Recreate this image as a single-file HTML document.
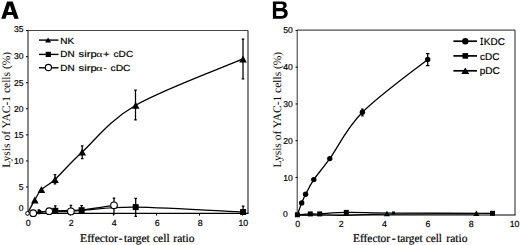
<!DOCTYPE html>
<html><head><meta charset="utf-8"><style>
html,body{margin:0;padding:0;background:#fff;}
svg{display:block;}
text{text-rendering:geometricPrecision;}
</style></head><body>
<svg width="520" height="245" viewBox="0 0 520 245">
<rect width="520" height="245" fill="#fff"/>
<path fill-rule="evenodd" fill="#000" d="M1.2,18.8 L7.1,1.4 L12.7,1.4 L18.7,18.8 L14.3,18.8 L13.05,15.0 L6.75,15.0 L5.5,18.8 Z M7.7,12.0 L12.1,12.0 L9.9,5.2 Z"/>
<path d="M28.0,213.4 L28.0,30.5" stroke="#111" stroke-width="1" fill="none"/>
<path d="M28.0,30.5 L248.0,30.5" stroke="#444" stroke-width="1.1" fill="none"/>
<path d="M248.0,30.5 L248.0,213.4" stroke="#222" stroke-width="1.1" fill="none"/>
<path d="M27.5,213.4 L248.5,213.4" stroke="#000" stroke-width="1.3"/>
<text x="23.6" y="211.30" text-anchor="end" style="font-family:'Liberation Sans',sans-serif;font-size:8.6px;stroke:#000;stroke-width:0.18px">0</text>
<path d="M26.0,187.02 L28.0,187.02" stroke="#000" stroke-width="1"/>
<text x="23.6" y="189.82" text-anchor="end" style="font-family:'Liberation Sans',sans-serif;font-size:8.6px;stroke:#000;stroke-width:0.18px">5</text>
<path d="M26.0,160.94 L28.0,160.94" stroke="#000" stroke-width="1"/>
<text x="23.6" y="163.74" text-anchor="end" style="font-family:'Liberation Sans',sans-serif;font-size:8.6px;stroke:#000;stroke-width:0.18px">10</text>
<path d="M26.0,134.86 L28.0,134.86" stroke="#000" stroke-width="1"/>
<text x="23.6" y="137.66" text-anchor="end" style="font-family:'Liberation Sans',sans-serif;font-size:8.6px;stroke:#000;stroke-width:0.18px">15</text>
<path d="M26.0,108.78 L28.0,108.78" stroke="#000" stroke-width="1"/>
<text x="23.6" y="111.58" text-anchor="end" style="font-family:'Liberation Sans',sans-serif;font-size:8.6px;stroke:#000;stroke-width:0.18px">20</text>
<path d="M26.0,82.70 L28.0,82.70" stroke="#000" stroke-width="1"/>
<text x="23.6" y="85.50" text-anchor="end" style="font-family:'Liberation Sans',sans-serif;font-size:8.6px;stroke:#000;stroke-width:0.18px">25</text>
<path d="M26.0,56.62 L28.0,56.62" stroke="#000" stroke-width="1"/>
<text x="23.6" y="59.42" text-anchor="end" style="font-family:'Liberation Sans',sans-serif;font-size:8.6px;stroke:#000;stroke-width:0.18px">30</text>
<path d="M26.0,30.54 L28.0,30.54" stroke="#000" stroke-width="1"/>
<text x="23.6" y="32.34" text-anchor="end" style="font-family:'Liberation Sans',sans-serif;font-size:8.6px;stroke:#000;stroke-width:0.18px">35</text>
<path d="M27.50,213.4 L27.50,215.6" stroke="#000" stroke-width="1"/>
<text x="28.30" y="226.4" text-anchor="middle" style="font-family:'Liberation Sans',sans-serif;font-size:8.8px;stroke:#000;stroke-width:0.18px">0</text>
<path d="M70.50,213.4 L70.50,215.6" stroke="#000" stroke-width="1"/>
<text x="71.30" y="226.4" text-anchor="middle" style="font-family:'Liberation Sans',sans-serif;font-size:8.8px;stroke:#000;stroke-width:0.18px">2</text>
<path d="M113.50,213.4 L113.50,215.6" stroke="#000" stroke-width="1"/>
<text x="114.30" y="226.4" text-anchor="middle" style="font-family:'Liberation Sans',sans-serif;font-size:8.8px;stroke:#000;stroke-width:0.18px">4</text>
<path d="M156.50,213.4 L156.50,215.6" stroke="#000" stroke-width="1"/>
<text x="157.30" y="226.4" text-anchor="middle" style="font-family:'Liberation Sans',sans-serif;font-size:8.8px;stroke:#000;stroke-width:0.18px">6</text>
<path d="M199.50,213.4 L199.50,215.6" stroke="#000" stroke-width="1"/>
<text x="200.30" y="226.4" text-anchor="middle" style="font-family:'Liberation Sans',sans-serif;font-size:8.8px;stroke:#000;stroke-width:0.18px">8</text>
<path d="M242.50,213.4 L242.50,215.6" stroke="#000" stroke-width="1"/>
<text x="243.30" y="226.4" text-anchor="middle" style="font-family:'Liberation Sans',sans-serif;font-size:8.8px;stroke:#000;stroke-width:0.18px">10</text>
<text x="80.07" y="241.50" textLength="37.73" lengthAdjust="spacingAndGlyphs" style="font-family:'Liberation Serif',serif;font-size:11.7px;stroke:#000;stroke-width:0.2px">Effector</text>
<text x="118.70" y="241.50" textLength="3.59" lengthAdjust="spacingAndGlyphs" style="font-family:'Liberation Serif',serif;font-size:11.7px;stroke:#000;stroke-width:0.2px">-</text>
<text x="124.09" y="241.50" textLength="25.68" lengthAdjust="spacingAndGlyphs" style="font-family:'Liberation Serif',serif;font-size:11.7px;stroke:#000;stroke-width:0.2px">target</text>
<text x="152.96" y="241.50" textLength="16.67" lengthAdjust="spacingAndGlyphs" style="font-family:'Liberation Serif',serif;font-size:11.7px;stroke:#000;stroke-width:0.2px">cell</text>
<text x="173.37" y="241.50" textLength="21.07" lengthAdjust="spacingAndGlyphs" style="font-family:'Liberation Serif',serif;font-size:11.7px;stroke:#000;stroke-width:0.2px">ratio</text>
<text transform="translate(9.7,167.8) rotate(-90)" x="0" y="0" textLength="116" lengthAdjust="spacingAndGlyphs" style="font-family:'Liberation Serif',serif;font-size:11.5px">Lysis of YAC-1 cells (%)</text>
<path d="M39,40.1 L58.5,40.1" stroke="#000" stroke-width="1.4"/>
<path d="M45.10,42.60 L51.10,42.60 L48.10,37.40 Z" fill="#000"/>
<text x="60.38" y="43.50" textLength="13.94" lengthAdjust="spacingAndGlyphs" style="font-family:'Liberation Sans',sans-serif;font-size:8.8px;stroke:#000;stroke-width:0.18px">NK</text>
<path d="M39,54.4 L58.5,54.4" stroke="#000" stroke-width="1.4"/>
<rect x="45.70" y="51.80" width="5.2" height="5.2" fill="#000"/>
<text x="60.39" y="56.90" textLength="14.32" lengthAdjust="spacingAndGlyphs" style="font-family:'Liberation Sans',sans-serif;font-size:8.8px;stroke:#000;stroke-width:0.18px">DN</text>
<text x="78.59" y="56.90" textLength="18.08" lengthAdjust="spacingAndGlyphs" style="font-family:'Liberation Sans',sans-serif;font-size:8.8px;stroke:#000;stroke-width:0.18px">sirp</text>
<text x="96.35" y="56.90" textLength="6.22" lengthAdjust="spacingAndGlyphs" style="font-family:'Liberation Serif',serif;font-size:8.8px">α</text>
<text x="102.94" y="56.90" textLength="6.73" lengthAdjust="spacingAndGlyphs" style="font-family:'Liberation Sans',sans-serif;font-size:8.8px;stroke:#000;stroke-width:0.18px">+</text>
<text x="113.57" y="56.90" textLength="19.61" lengthAdjust="spacingAndGlyphs" style="font-family:'Liberation Sans',sans-serif;font-size:8.8px;stroke:#000;stroke-width:0.18px">cDC</text>
<path d="M39,67.8 L58.5,67.8" stroke="#000" stroke-width="1.4"/>
<circle cx="48.40" cy="67.50" r="3.1" fill="#fff" stroke="#000" stroke-width="1.1"/>
<text x="60.39" y="70.60" textLength="14.32" lengthAdjust="spacingAndGlyphs" style="font-family:'Liberation Sans',sans-serif;font-size:8.8px;stroke:#000;stroke-width:0.18px">DN</text>
<text x="78.59" y="70.60" textLength="18.08" lengthAdjust="spacingAndGlyphs" style="font-family:'Liberation Sans',sans-serif;font-size:8.8px;stroke:#000;stroke-width:0.18px">sirp</text>
<text x="96.12" y="70.60" textLength="6.56" lengthAdjust="spacingAndGlyphs" style="font-family:'Liberation Serif',serif;font-size:8.8px">α</text>
<text x="103.58" y="70.60" textLength="3.14" lengthAdjust="spacingAndGlyphs" style="font-family:'Liberation Sans',sans-serif;font-size:8.8px;stroke:#000;stroke-width:0.18px">-</text>
<text x="110.46" y="70.60" textLength="20.13" lengthAdjust="spacingAndGlyphs" style="font-family:'Liberation Sans',sans-serif;font-size:8.8px;stroke:#000;stroke-width:0.18px">cDC</text>
<path d="M27.50,213.30 C29.50,213.05 34.87,212.22 39.50,211.80 C44.13,211.38 48.28,211.07 55.30,210.80 C62.32,210.53 68.20,210.82 81.60,210.20 C95.00,209.58 108.78,206.80 135.70,207.10 C162.62,207.40 225.20,211.18 243.10,212.00" stroke="#000" stroke-width="1.3" fill="none"/>
<path d="M27.50,213.30 C28.45,213.28 29.58,213.55 33.20,213.20 C36.82,212.85 42.92,211.50 49.20,211.20 C55.48,210.90 60.10,212.38 70.90,211.40 C81.70,210.42 106.82,206.32 114.00,205.30" stroke="#000" stroke-width="1.3" fill="none"/>
<path d="M27.50,213.30 C28.72,211.07 32.48,203.85 34.80,199.90 C37.12,195.95 38.03,193.02 41.40,189.60 C44.77,186.18 48.20,185.67 55.00,179.40 C61.80,173.13 68.75,164.37 82.20,152.00 C95.65,139.63 108.90,120.72 135.70,105.20 C162.50,89.68 225.12,66.62 243.00,58.90" stroke="#000" stroke-width="1.3" fill="none"/>
<path d="M55.00,174.50 L55.00,183.90 M53.70,174.50 L56.30,174.50 M53.70,183.90 L56.30,183.90" stroke="#000" stroke-width="1.25" fill="none"/>
<path d="M82.20,145.90 L82.20,158.50 M80.90,145.90 L83.50,145.90 M80.90,158.50 L83.50,158.50" stroke="#000" stroke-width="1.25" fill="none"/>
<path d="M135.50,90.20 L135.50,119.80 M134.20,90.20 L136.80,90.20 M134.20,119.80 L136.80,119.80" stroke="#000" stroke-width="1.25" fill="none"/>
<path d="M243.00,39.00 L243.00,78.80 M241.70,39.00 L244.30,39.00 M241.70,78.80 L244.30,78.80" stroke="#000" stroke-width="1.25" fill="none"/>
<path d="M38.80,209.80 L38.80,213.50 M37.50,209.80 L40.10,209.80 M37.50,213.50 L40.10,213.50" stroke="#000" stroke-width="1.25" fill="none"/>
<path d="M55.30,205.80 L55.30,213.00 M54.00,205.80 L56.60,205.80 M54.00,213.00 L56.60,213.00" stroke="#000" stroke-width="1.25" fill="none"/>
<path d="M81.60,205.60 L81.60,213.00 M80.30,205.60 L82.90,205.60 M80.30,213.00 L82.90,213.00" stroke="#000" stroke-width="1.25" fill="none"/>
<path d="M135.70,198.30 L135.70,216.30 M134.40,198.30 L137.00,198.30 M134.40,216.30 L137.00,216.30" stroke="#000" stroke-width="1.25" fill="none"/>
<path d="M243.10,206.20 L243.10,213.00 M241.80,206.20 L244.40,206.20 M241.80,213.00 L244.40,213.00" stroke="#000" stroke-width="1.25" fill="none"/>
<path d="M70.90,205.30 L70.90,213.00 M69.60,205.30 L72.20,205.30 M69.60,213.00 L72.20,213.00" stroke="#000" stroke-width="1.25" fill="none"/>
<path d="M114.00,198.00 L114.00,213.90 M112.70,198.00 L115.30,198.00 M112.70,213.90 L115.30,213.90" stroke="#000" stroke-width="1.25" fill="none"/>
<path d="M31.00,203.40 L38.60,203.40 L34.80,196.40 Z" fill="#000"/>
<path d="M37.60,193.10 L45.20,193.10 L41.40,186.10 Z" fill="#000"/>
<path d="M51.20,182.90 L58.80,182.90 L55.00,175.90 Z" fill="#000"/>
<path d="M78.40,155.50 L86.00,155.50 L82.20,148.50 Z" fill="#000"/>
<path d="M131.90,108.70 L139.50,108.70 L135.70,101.70 Z" fill="#000"/>
<path d="M239.20,62.40 L246.80,62.40 L243.00,55.40 Z" fill="#000"/>
<rect x="37.75" y="210.05" width="3.5" height="3.5" fill="#000"/>
<rect x="52.30" y="207.80" width="6.0" height="6.0" fill="#000"/>
<rect x="78.60" y="207.20" width="6.0" height="6.0" fill="#000"/>
<rect x="132.70" y="204.10" width="6.0" height="6.0" fill="#000"/>
<rect x="240.10" y="209.00" width="6.0" height="6.0" fill="#000"/>
<circle cx="27.5" cy="213.4" r="1.85" fill="#fff" stroke="#000" stroke-width="1.0"/>
<circle cx="33.20" cy="213.20" r="3.35" fill="#fff" stroke="#000" stroke-width="1.1"/>
<circle cx="49.20" cy="211.20" r="3.35" fill="#fff" stroke="#000" stroke-width="1.1"/>
<circle cx="70.90" cy="211.40" r="3.35" fill="#fff" stroke="#000" stroke-width="1.1"/>
<circle cx="114.00" cy="205.30" r="3.35" fill="#fff" stroke="#000" stroke-width="1.1"/>
<path fill-rule="evenodd" fill="#000" d="M272.9,1.4 H282.0 C285.3,1.4 286.7,3.1 286.7,5.1 C286.7,6.9 285.7,8.0 284.2,8.6 C286.4,9.2 287.7,10.9 287.7,13.3 C287.7,16.5 285.6,18.7 281.8,18.7 H272.9 Z M276.2,4.1 H281.2 C282.7,4.1 283.4,4.9 283.4,6.0 C283.4,7.2 282.6,8.1 281.1,8.1 H276.2 Z M276.2,11.3 H281.6 C283.4,11.3 284.3,12.3 284.3,13.6 C284.3,15.0 283.4,16.0 281.6,16.0 H276.2 Z"/>
<path d="M297.2,215.0 L297.2,30.1" stroke="#333" stroke-width="1" fill="none"/>
<path d="M297.2,30.1 L515.0,30.1" stroke="#222" stroke-width="1.0" fill="none"/>
<path d="M515.0,30.1 L515.0,215.0" stroke="#222" stroke-width="1.0" fill="none"/>
<path d="M297.0,215.0 L515.5,215.0" stroke="#000" stroke-width="1.0"/>
<text x="283.0" y="217.20" style="font-family:'Liberation Sans',sans-serif;font-size:8.6px;stroke:#000;stroke-width:0.18px">0</text>
<path d="M295.5,177.45 L297.5,177.45" stroke="#000" stroke-width="1"/>
<text x="292.9" y="180.65" text-anchor="end" style="font-family:'Liberation Sans',sans-serif;font-size:8.6px;stroke:#000;stroke-width:0.18px">10</text>
<path d="M295.5,140.70 L297.5,140.70" stroke="#000" stroke-width="1"/>
<text x="292.9" y="143.90" text-anchor="end" style="font-family:'Liberation Sans',sans-serif;font-size:8.6px;stroke:#000;stroke-width:0.18px">20</text>
<path d="M295.5,103.95 L297.5,103.95" stroke="#000" stroke-width="1"/>
<text x="292.9" y="107.15" text-anchor="end" style="font-family:'Liberation Sans',sans-serif;font-size:8.6px;stroke:#000;stroke-width:0.18px">30</text>
<path d="M295.5,67.20 L297.5,67.20" stroke="#000" stroke-width="1"/>
<text x="292.9" y="70.40" text-anchor="end" style="font-family:'Liberation Sans',sans-serif;font-size:8.6px;stroke:#000;stroke-width:0.18px">40</text>
<path d="M295.5,30.45 L297.5,30.45" stroke="#000" stroke-width="1"/>
<text x="292.9" y="32.65" text-anchor="end" style="font-family:'Liberation Sans',sans-serif;font-size:8.6px;stroke:#000;stroke-width:0.18px">50</text>
<text x="297.80" y="227.0" text-anchor="middle" style="font-family:'Liberation Sans',sans-serif;font-size:8.8px;stroke:#000;stroke-width:0.18px">0</text>
<text x="341.16" y="227.0" text-anchor="middle" style="font-family:'Liberation Sans',sans-serif;font-size:8.8px;stroke:#000;stroke-width:0.18px">2</text>
<text x="384.52" y="227.0" text-anchor="middle" style="font-family:'Liberation Sans',sans-serif;font-size:8.8px;stroke:#000;stroke-width:0.18px">4</text>
<text x="427.88" y="227.0" text-anchor="middle" style="font-family:'Liberation Sans',sans-serif;font-size:8.8px;stroke:#000;stroke-width:0.18px">6</text>
<text x="471.24" y="227.0" text-anchor="middle" style="font-family:'Liberation Sans',sans-serif;font-size:8.8px;stroke:#000;stroke-width:0.18px">8</text>
<text x="514.60" y="227.0" text-anchor="middle" style="font-family:'Liberation Sans',sans-serif;font-size:8.8px;stroke:#000;stroke-width:0.18px">10</text>
<text x="353.07" y="241.50" textLength="37.03" lengthAdjust="spacingAndGlyphs" style="font-family:'Liberation Serif',serif;font-size:11.7px;stroke:#000;stroke-width:0.2px">Effector</text>
<text x="391.87" y="241.50" textLength="3.85" lengthAdjust="spacingAndGlyphs" style="font-family:'Liberation Serif',serif;font-size:11.7px;stroke:#000;stroke-width:0.2px">-</text>
<text x="397.19" y="241.50" textLength="25.47" lengthAdjust="spacingAndGlyphs" style="font-family:'Liberation Serif',serif;font-size:11.7px;stroke:#000;stroke-width:0.2px">target</text>
<text x="425.67" y="241.50" textLength="16.25" lengthAdjust="spacingAndGlyphs" style="font-family:'Liberation Serif',serif;font-size:11.7px;stroke:#000;stroke-width:0.2px">cell</text>
<text x="446.37" y="241.50" textLength="21.07" lengthAdjust="spacingAndGlyphs" style="font-family:'Liberation Serif',serif;font-size:11.7px;stroke:#000;stroke-width:0.2px">ratio</text>
<text transform="translate(281.3,167.4) rotate(-90)" x="0" y="0" textLength="115.6" lengthAdjust="spacingAndGlyphs" style="font-family:'Liberation Serif',serif;font-size:11.5px">Lysis of YAC-1 cells (%)</text>
<path d="M453.4,41.2 L477.0,41.2" stroke="#000" stroke-width="1.7"/>
<circle cx="465.30" cy="41.20" r="3.2" fill="#000"/>
<path d="M480.4,37.8 h2.7 v0.95 h-0.85 v5.2 h0.85 v0.95 h-2.7 v-0.95 h0.85 v-5.2 h-0.85 Z" fill="#000"/>
<text x="483.88" y="44.90" textLength="21.10" lengthAdjust="spacingAndGlyphs" style="font-family:'Liberation Sans',sans-serif;font-size:9.8px;stroke:#000;stroke-width:0.18px">KDC</text>
<path d="M453.4,55.9 L477.0,55.9" stroke="#000" stroke-width="1.7"/>
<rect x="462.50" y="53.10" width="5.6" height="5.6" fill="#000"/>
<text x="479.98" y="60.20" textLength="19.40" lengthAdjust="spacingAndGlyphs" style="font-family:'Liberation Sans',sans-serif;font-size:9.8px;stroke:#000;stroke-width:0.18px">cDC</text>
<path d="M453.4,70.8 L477.0,70.8" stroke="#000" stroke-width="1.7"/>
<path d="M461.30,74.05 L469.30,74.05 L465.30,67.55 Z" fill="#000"/>
<text x="479.75" y="74.30" textLength="20.13" lengthAdjust="spacingAndGlyphs" style="font-family:'Liberation Sans',sans-serif;font-size:9.8px;stroke:#000;stroke-width:0.18px">pDC</text>
<path d="M297.40,214.80 C299.55,214.65 306.58,214.05 310.30,213.90 C314.02,213.75 313.70,214.15 319.70,213.90 C325.70,213.65 334.00,212.55 346.30,212.40 C358.60,212.25 369.13,212.85 393.50,213.00 C417.87,213.15 476.00,213.25 492.50,213.30" stroke="#000" stroke-width="1.15" fill="none"/>
<path d="M297.40,214.80 C299.28,214.87 304.97,215.20 308.70,215.20 C312.43,215.20 314.18,214.77 319.80,214.80 C325.42,214.83 331.22,215.52 342.40,215.40 C353.58,215.28 364.57,214.37 386.90,214.10 C409.23,213.83 461.48,213.85 476.40,213.80" stroke="#000" stroke-width="1.15" fill="none"/>
<path d="M297.50,214.30 C298.20,212.40 300.35,206.23 301.70,202.90 C303.05,199.57 303.58,198.18 305.60,194.30 C307.62,190.42 309.77,185.55 313.80,179.60 C317.83,173.65 321.70,169.82 329.80,158.60 C337.90,147.38 346.08,128.83 362.40,112.30 C378.72,95.77 416.82,68.22 427.70,59.40" stroke="#000" stroke-width="1.3" fill="none"/>
<path d="M427.70,53.60 L427.70,65.60 M425.90,53.60 L429.50,53.60 M425.90,65.60 L429.50,65.60" stroke="#000" stroke-width="1.25" fill="none"/>
<path d="M362.40,109.00 L362.40,115.80 M361.15,109.00 L363.65,109.00 M361.15,115.80 L363.65,115.80" stroke="#000" stroke-width="1.25" fill="none"/>
<circle cx="301.70" cy="202.90" r="2.7" fill="#000"/>
<circle cx="305.60" cy="194.30" r="2.7" fill="#000"/>
<circle cx="313.80" cy="179.60" r="2.7" fill="#000"/>
<circle cx="329.80" cy="158.60" r="2.7" fill="#000"/>
<circle cx="362.40" cy="112.30" r="2.7" fill="#000"/>
<circle cx="427.70" cy="59.40" r="2.7" fill="#000"/>
<rect x="294.90" y="212.30" width="5.0" height="5.0" fill="#000"/>
<rect x="307.80" y="211.40" width="5.0" height="5.0" fill="#000"/>
<rect x="317.20" y="211.40" width="5.0" height="5.0" fill="#000"/>
<rect x="343.80" y="209.90" width="5.0" height="5.0" fill="#000"/>
<rect x="392.00" y="211.50" width="3.0" height="3.0" fill="#000"/>
<rect x="490.00" y="210.80" width="5.0" height="5.0" fill="#000"/>
<path d="M383.90,216.35 L389.90,216.35 L386.90,210.85 Z" fill="#000"/>
<path d="M473.40,215.95 L479.40,215.95 L476.40,210.45 Z" fill="#000"/>
</svg>
</body></html>
